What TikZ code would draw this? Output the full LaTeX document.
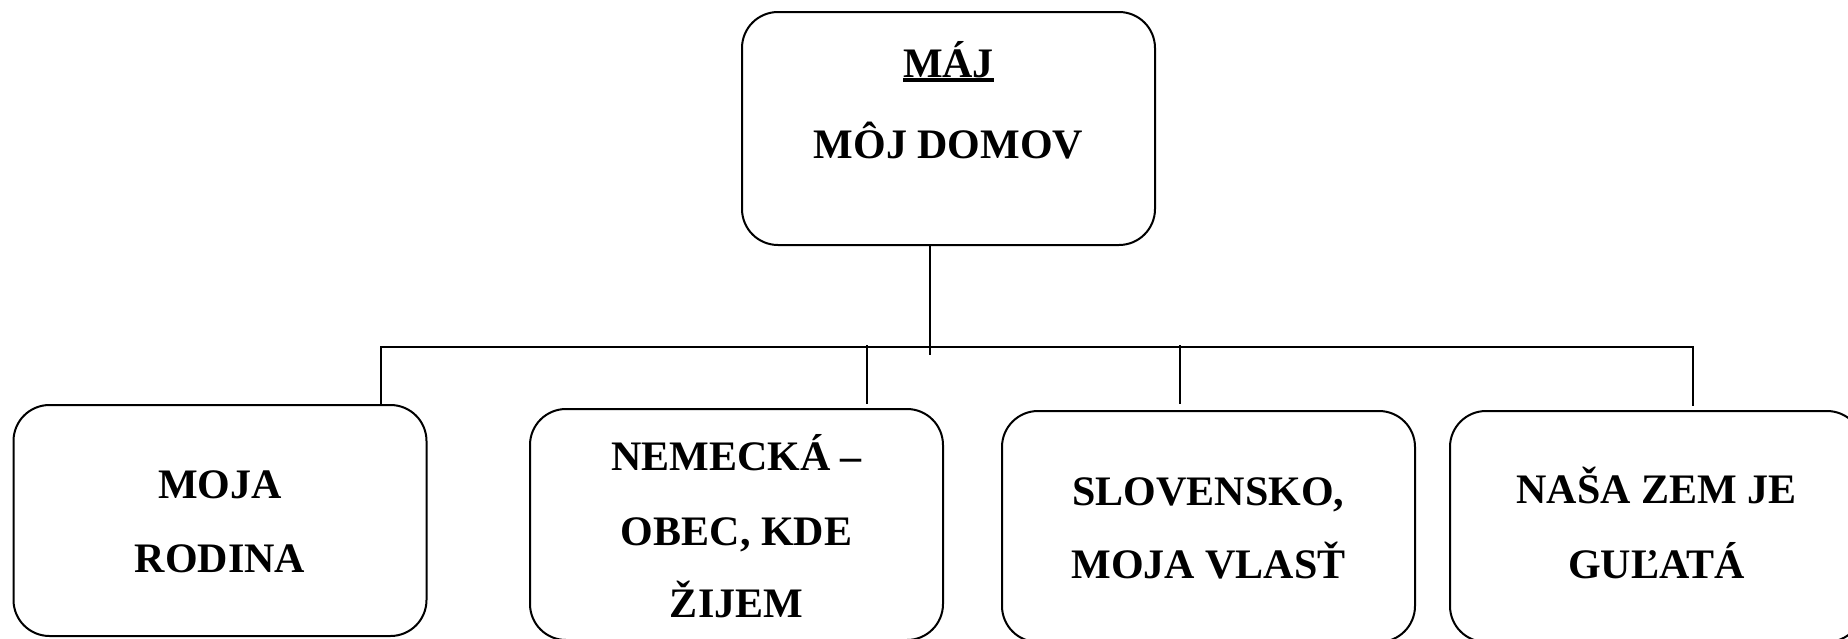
\documentclass[tikz,border=0pt]{standalone}
\usepackage{fontspec}
\setmainfont{Liberation Serif}
\newcommand{\thickul}[1]{\setbox0=\hbox{#1}\rlap{\rule[-2.4pt]{\wd0}{1.8pt}}\box0}
\begin{document}
\begin{tikzpicture}[x=0.5pt,y=-0.5pt,
  box/.style={draw, line width=1pt, rounded corners=18pt, minimum width=206.5pt,
    minimum height=115.5pt, inner sep=0pt},
  txt/.style={inner sep=0pt, anchor=base, font=\bfseries\fontsize{21}{25}\selectfont},
  conn/.style={line width=0.75pt}]
\clip (0,0) rectangle (1848,638);
% boxes
\node[box, minimum height=116.5pt] (top) at (948.5,128.5) {};
\node[box] (b1) at (220,520.5) {};
\node[box] (b2) at (736.5,524.5) {};
\node[box] (b3) at (1208.5,526.5) {};
\node[box] (b4) at (1656.5,526.5) {};
% texts
\node[txt] (maj) at (948.5,77) {\thickul{MÁJ}};
\node[txt] (domov) at (948.5,158) {MÔJ DOMOV};
\node[txt] (t1a) at (220,498) {MOJA};
\node[txt] (t1b) at (220,572) {RODINA};
\node[txt] (t2a) at (736.5,470) {NEMECKÁ –};
\node[txt] (t2b) at (736.5,545) {OBEC, KDE};
\node[txt] (t2c) at (736.5,617) {ŽIJEM};
\node[txt] (t3a) at (1208.5,505) {SLOVENSKO,};
\node[txt] (t3b) at (1208.5,578) {MOJA VLASŤ};
\node[txt] (t4a) at (1656.5,503) {NAŠA ZEM JE};
\node[txt] (t4b) at (1656.5,578) {GUĽATÁ};
% connectors
\coordinate (hub) at (930,355);
\coordinate (bL) at (381,347);
\coordinate (bR) at (1693,347);
\coordinate (d2) at (867,345);
\coordinate (d3) at (1180,345);
\draw[conn] (top.south -| hub) -- (hub);
\draw[conn] (b1.north -| bL) -- (bL) -- (bR) -- ([yshift=2pt]b4.north -| bR);
\draw[conn] (d2) -- ([yshift=2pt]b2.north -| d2);
\draw[conn] (d3) -- ([yshift=3pt]b3.north -| d3);
\end{tikzpicture}
\end{document}
